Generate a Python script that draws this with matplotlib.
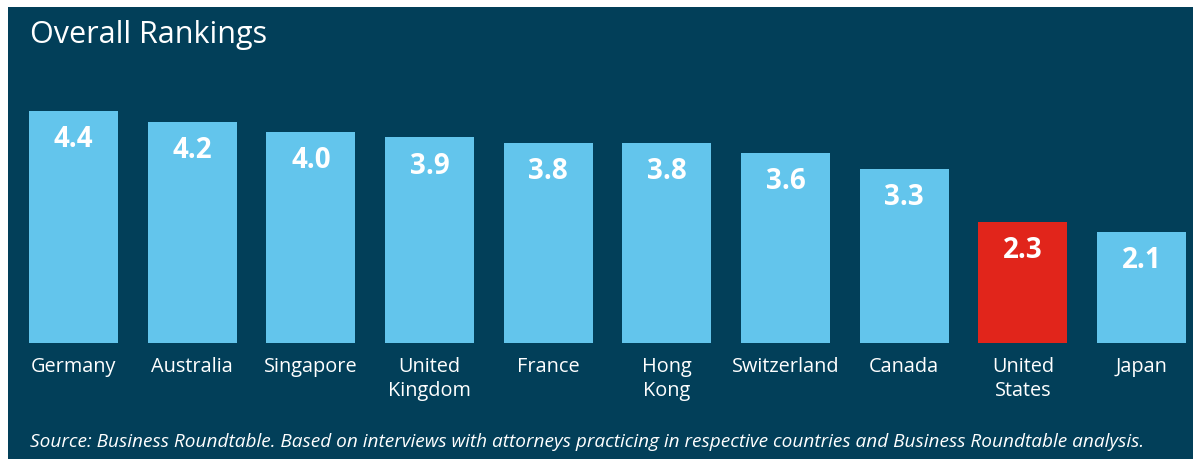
import matplotlib
matplotlib.use('Agg')
import matplotlib.pyplot as plt
from matplotlib.patches import Rectangle

# data
countries = ['Germany', 'Australia', 'Singapore', 'United\nKingdom', 'France',
             'Hong\nKong', 'Switzerland', 'Canada', 'United\nStates', 'Japan']
scores = [4.4, 4.2, 4.0, 3.9, 3.8, 3.8, 3.6, 3.3, 2.3, 2.1]
highlight = 'United\nStates'

BG = '#023F59'
BLUE = '#63C5EC'
RED = '#E1251B'

plt.rcParams['font.family'] = ['Open Sans', 'DejaVu Sans']

W, H = 1194, 459
fig = plt.figure(figsize=(W / 100, H / 100), dpi=100, facecolor='white')

# dark panel with a thin white margin top/left
fig.patches.append(Rectangle((8 / W, 0), (1193 - 8) / W, (H - 7) / H,
                             transform=fig.transFigure, facecolor=BG,
                             edgecolor='none', zorder=-1))

px_per_unit = 52.7
ymax = 5.0
ax = fig.add_axes([29 / W, (H - 343) / H, (1186 - 29) / W, ymax * px_per_unit / H])
ax.set_facecolor('none')

colors = [RED if c == highlight else BLUE for c in countries]
x = list(range(len(countries)))
ax.bar(x, scores, width=0.75, color=colors, zorder=2)
ax.set_xlim(-0.375, len(countries) - 1 + 0.375)
ax.set_ylim(0, ymax)

for xi, v in zip(x, scores):
    ax.annotate('{:.1f}'.format(v), (xi, v), xytext=(0, -26), textcoords='offset points',
                ha='center', va='baseline', color='white', fontsize=20,
                fontweight='bold', zorder=3)

ax.set_xticks(x)
ax.set_xticklabels(countries, color='white', fontsize=14.3, linespacing=1.3)
ax.tick_params(axis='x', length=0, pad=10)
ax.set_yticks([])
for s in ax.spines.values():
    s.set_visible(False)

fig.text(30 / W, (H - 43) / H, 'Overall Rankings', color='white', fontsize=22,
         ha='left', va='baseline')
fig.text(30 / W, (H - 447) / H,
         'Source: Business Roundtable. Based on interviews with attorneys practicing in '
         'respective countries and Business Roundtable analysis.',
         color='white', fontsize=13.7, style='italic', ha='left', va='baseline')

fig.savefig('out.png', dpi=100, facecolor=fig.get_facecolor())
